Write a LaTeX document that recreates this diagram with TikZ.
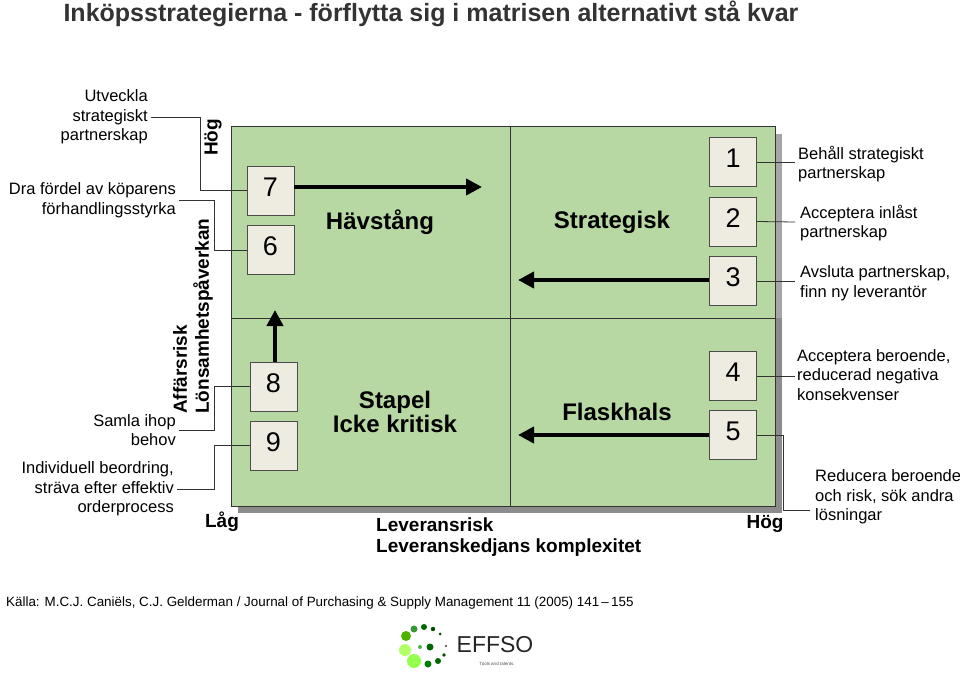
\documentclass[tikz,border=0pt]{standalone}
\usepackage{fontspec}
\setmainfont{Liberation Sans}
\usetikzlibrary{arrows.meta}
\begin{document}
\begin{tikzpicture}[x=1pt,y=-1pt,
  numbox/.style={draw=black!70,fill={rgb,255:red,238;green,235;blue,225},minimum width=47pt,minimum height=49pt,inner sep=0pt,font=\fontsize{27}{29}\selectfont},
  lbl/.style={font=\fontsize{16.5}{19.5}\selectfont,inner sep=0pt},
  quad/.style={font=\bfseries\fontsize{24}{27}\selectfont,align=center},
  axis/.style={font=\bfseries\fontsize{19}{22}\selectfont,inner sep=0pt},
  conn/.style={draw=black!80,line width=0.8pt},
  big/.style={line width=4pt,-{Triangle[length=16pt,width=16pt]}}]
\useasboundingbox (0,0) rectangle (960,676);
\fill[white] (0,0) rectangle (960,676);
\node[anchor=west,font=\bfseries\fontsize{25}{28}\selectfont,text=black!80] (title) at (60,14) {Inköpsstrategierna - förflytta sig i matrisen alternativt stå kvar};
% matrix
\fill[black!45] (238,134) rectangle (782,513);
\fill[black!35!white] (775,134) rectangle (782,318);
\draw[black!80,fill={rgb,255:red,183;green,215;blue,163},line width=1pt] (231,127) rectangle (775,506);
\draw[black!80,line width=0.8pt] (510,127) -- (510,506);
\draw[black!80,line width=0.8pt] (231,318) -- (775,318);
\node[numbox] (b7) at (270.5,190.5) {\strut7\hspace{14pt}};
\node[numbox] (b6) at (270.5,250) {\strut6\hspace{14pt}};
\node[numbox] (b8) at (273.5,386.5) {\strut8\hspace{14pt}};
\node[numbox] (b9) at (273.5,445.5) {\strut9\hspace{14pt}};
\node[numbox] (b1) at (733,162) {\strut1\hspace{14pt}};
\node[numbox] (b2) at (733,221.5) {\strut2\hspace{14pt}};
\node[numbox] (b3) at (733,281) {\strut3\hspace{14pt}};
\node[numbox] (b4) at (733,376) {\strut4\hspace{14pt}};
\node[numbox] (b5) at (733,435) {\strut5\hspace{14pt}};
\coordinate (a1) at (482,187);
\coordinate (a2) at (518,280);
\coordinate (a3) at (518,435);
\coordinate (a4) at (275,310);
\draw[big] (b7.east |- a1) -- (a1);
\draw[big] (b3.west |- a2) -- (a2);
\draw[big] (b5.west |- a3) -- (a3);
\draw[big] (b8.north -| a4) -- (a4);
\node[quad] (q1) at (380,222) {Hävstång};
\node[quad] (q2) at (612,222) {Strategisk};
\node[quad] (q3) at (395,412) {Stapel\\[-3pt]Icke kritisk};
\node[quad] (q4) at (617,412) {Flaskhals};
% axes
\node[axis,rotate=90,anchor=west] (hog1) at (213,156) {Hög};
\node[axis,rotate=90,anchor=west] (lons) at (203,414) {Lönsamhetspåverkan};
\node[axis,rotate=90,anchor=west] (aff) at (180,414) {Affärsrisk};
\node[axis] (lag) at (222,522) {Låg};
\node[axis] (hog2) at (765,524) {Hög};
\node[axis,anchor=west] (lr) at (376,525) {Leveransrisk};
\node[axis,anchor=west] (lk) at (376,548) {Leveranskedjans komplexitet};
% left labels
\node[lbl,align=right,anchor=east] (t1) at (148,117) {Utveckla\\strategiskt\\partnerskap};
\node[lbl,align=right,anchor=east] (t2) at (176,200) {Dra fördel av köparens\\förhandlingsstyrka};
\node[lbl,align=right,anchor=east] (t3) at (176,430) {Samla ihop\\behov};
\node[lbl,align=right,anchor=east] (t4) at (174,489) {Individuell beordring,\\sträva efter effektiv\\orderprocess};
\coordinate (k1) at (200,0);
\coordinate (k2) at (214,0);
\draw[conn] ([xshift=3pt]t1.east) -| (k1 |- b7.west) -- (b7.west);
\draw[conn] ([xshift=3pt]t2.east) -| (k2 |- b6.west) -- (b6.west);
\draw[conn] ([xshift=3pt]t3.east) -| (k2 |- b8.west) -- (b8.west);
\draw[conn] ([xshift=3pt]t4.east) -| (k2 |- b9.west) -- (b9.west);
% right labels
\node[lbl,align=left,anchor=west] (r1) at (798,164) {Behåll strategiskt\\partnerskap};
\node[lbl,align=left,anchor=west] (r2) at (800,223) {Acceptera inlåst\\partnerskap};
\node[lbl,align=left,anchor=west] (r3) at (800,283) {Avsluta partnerskap,\\finn ny leverantör};
\node[lbl,align=left,anchor=west] (r4) at (797,375) {Acceptera beroende,\\reducerad negativa\\konsekvenser};
\node[lbl,align=left,anchor=west] (r5) at (815,497) {Reducera beroende\\och risk, sök andra\\lösningar};
\draw[conn] (b1.east) -- (795,162);
\draw[conn] (b2.east) -- (795,222);
\draw[conn] (b3.east) -- (795,281);
\draw[conn] (b4.east) -- (795,376);
\draw[conn] (b5.east) -- (783,435) -- (783,510) -- (810,510);
% source
\node[anchor=west,font=\fontsize{13.4}{15}\selectfont,inner sep=0pt] (src) at (6,603) {Källa: M.C.J. Caniëls, C.J. Gelderman / Journal of Purchasing \& Supply Management 11 (2005) 141\,–\,155};
% logo
\foreach \x/\y/\r/\c in {406/636/5/green!55!yellow!70!black,414/629/3.5/green!50!black!80,424/627/3/green!40!black,433/629/2.2/green!30!black,440/634/1.5/green!30!black,405/650/6/green!50!yellow!60,420/647/2/green!40!gray,430/647/3.5/green!40!black,414/661/7/green!60!yellow!70,428/664/3.5/green!50!black,438/661/3/green!40!black,444/655/1.8/green!30!black,446/646/1.3/black!60}
  \fill[\c] (\x,\y) circle (\r);
\node[font=\fontsize{23}{23}\selectfont,text=black!85,inner sep=0pt] (logo) at (495,645) {EFFSO};
\node[font=\fontsize{4.5}{5}\selectfont,text=black!70,inner sep=0pt] (logo2) at (497,664) {Tools and talents.};
\end{tikzpicture}
\end{document}
